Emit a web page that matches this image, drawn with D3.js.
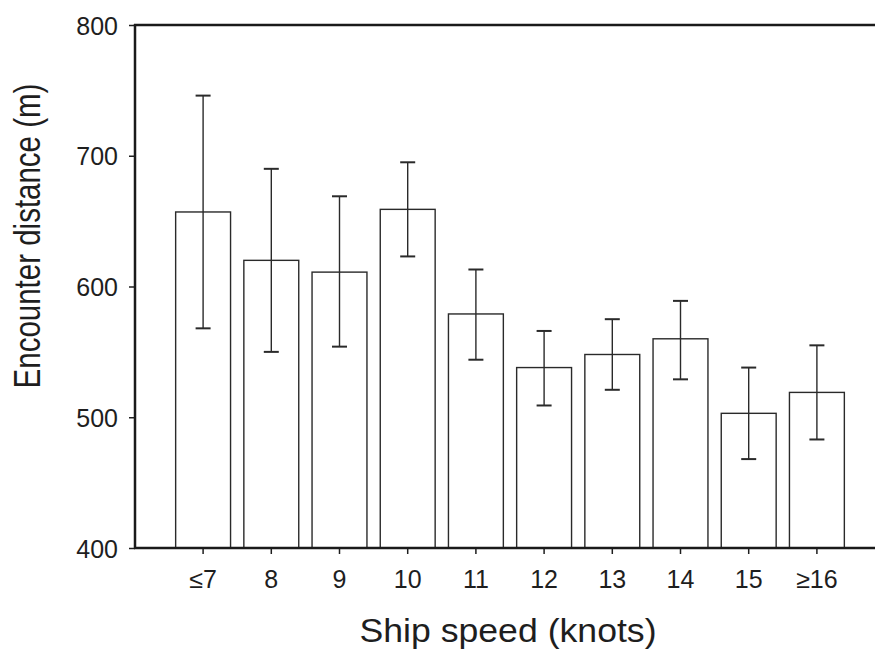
<!DOCTYPE html>
<html>
<head>
<meta charset="utf-8">
<script src="https://cdn.jsdelivr.net/npm/d3@7"></script>
<style>
  html, body { margin: 0; padding: 0; background: #fff; }
  text { font-family: "Liberation Sans", Arial, Helvetica, sans-serif; fill: #1e1e1e; }
</style>
</head>
<body>
<svg id="chart" width="875" height="651"></svg>
<script>
const categories = ["≤7", "8", "9", "10", "11", "12", "13", "14", "15", "≥16"];
const means      = [657, 620, 611, 659, 579, 538, 548, 560, 503, 519];
const errHigh    = [746, 690, 669, 695, 613, 566, 575, 589, 538, 555];
const errLow     = [568, 550, 554, 623, 544, 509, 521, 529, 468, 483];
const yTicks     = [400, 500, 600, 700, 800];
const xTitle = "Ship speed (knots)";
const yTitle = "Encounter distance (m)";

const svg = d3.select("#chart");
const plotLeft = 135, plotTop = 25, plotBottom = 548, rightEdge = 875;

const y = d3.scaleLinear().domain([400, 800]).range([plotBottom, plotTop]);
const x = d3.scaleBand().domain(categories).range([169, 851]).paddingInner(0.195).paddingOuter(0.0975);

// Bars
svg.append("g").selectAll("rect").data(categories).join("rect")
  .attr("x", d => x(d))
  .attr("y", (d, i) => y(means[i]))
  .attr("width", x.bandwidth())
  .attr("height", (d, i) => y(400) - y(means[i]))
  .attr("fill", "#fff")
  .attr("stroke", "#2a2a2a")
  .attr("stroke-width", 1.4);

// Error bars
const eg = svg.append("g").attr("stroke", "#2a2a2a").attr("stroke-width", 1.4);
categories.forEach((c, i) => {
  const cx = x(c) + x.bandwidth() / 2;
  eg.append("line").attr("x1", cx).attr("x2", cx).attr("y1", y(errLow[i])).attr("y2", y(errHigh[i]));
  eg.append("line").attr("x1", cx - 7.5).attr("x2", cx + 7.5).attr("y1", y(errHigh[i])).attr("y2", y(errHigh[i])).attr("stroke-width", 2);
  eg.append("line").attr("x1", cx - 7.5).attr("x2", cx + 7.5).attr("y1", y(errLow[i])).attr("y2", y(errLow[i])).attr("stroke-width", 2);
});

// Y axis
const yAxis = svg.append("g").attr("transform", `translate(${plotLeft},0)`)
  .call(d3.axisLeft(y).tickValues(yTicks).tickSize(6).tickPadding(11).tickFormat(d3.format("d")));
yAxis.select(".domain").remove();
yAxis.selectAll(".tick line").attr("stroke", "#1e1e1e").attr("stroke-width", 1.5);
yAxis.selectAll(".tick text")
  .attr("dy", "0.36em")
  .style("font-size", "25px")
  .style("font-family", "'Liberation Sans', Arial, sans-serif")
  .attr("fill", "#1e1e1e");

// X axis
const xAxis = svg.append("g").attr("transform", `translate(0,${plotBottom})`)
  .call(d3.axisBottom(x).tickSize(6).tickPadding(0));
xAxis.select(".domain").remove();
xAxis.selectAll(".tick line").attr("stroke", "#1e1e1e").attr("stroke-width", 1.5);
xAxis.selectAll(".tick text")
  .attr("y", 40).attr("dy", 0)
  .style("font-size", "25px")
  .style("font-family", "'Liberation Sans', Arial, sans-serif")
  .attr("fill", "#1e1e1e");

// Frame lines
const frame = svg.append("g").attr("stroke", "#1a1a1a").attr("stroke-width", 2.5).attr("fill", "none");
frame.append("line").attr("x1", plotLeft).attr("x2", plotLeft).attr("y1", plotTop - 1).attr("y2", plotBottom + 1);
frame.append("line").attr("x1", plotLeft - 1).attr("x2", rightEdge).attr("y1", plotTop).attr("y2", plotTop);
frame.append("line").attr("x1", plotLeft - 1).attr("x2", rightEdge).attr("y1", plotBottom).attr("y2", plotBottom);

// Titles
svg.append("g").attr("transform", "translate(508,642)")
  .append("text")
  .attr("transform", "scale(1.08,1)")
  .attr("text-anchor", "middle")
  .style("font-size", "33px")
  .text(xTitle);

svg.append("g").attr("transform", "translate(39.5,236) rotate(-90)")
  .append("text")
  .attr("transform", "scale(1,1.25)")
  .attr("text-anchor", "middle")
  .style("font-size", "29.5px")
  .text(yTitle);
</script>
</body>
</html>
